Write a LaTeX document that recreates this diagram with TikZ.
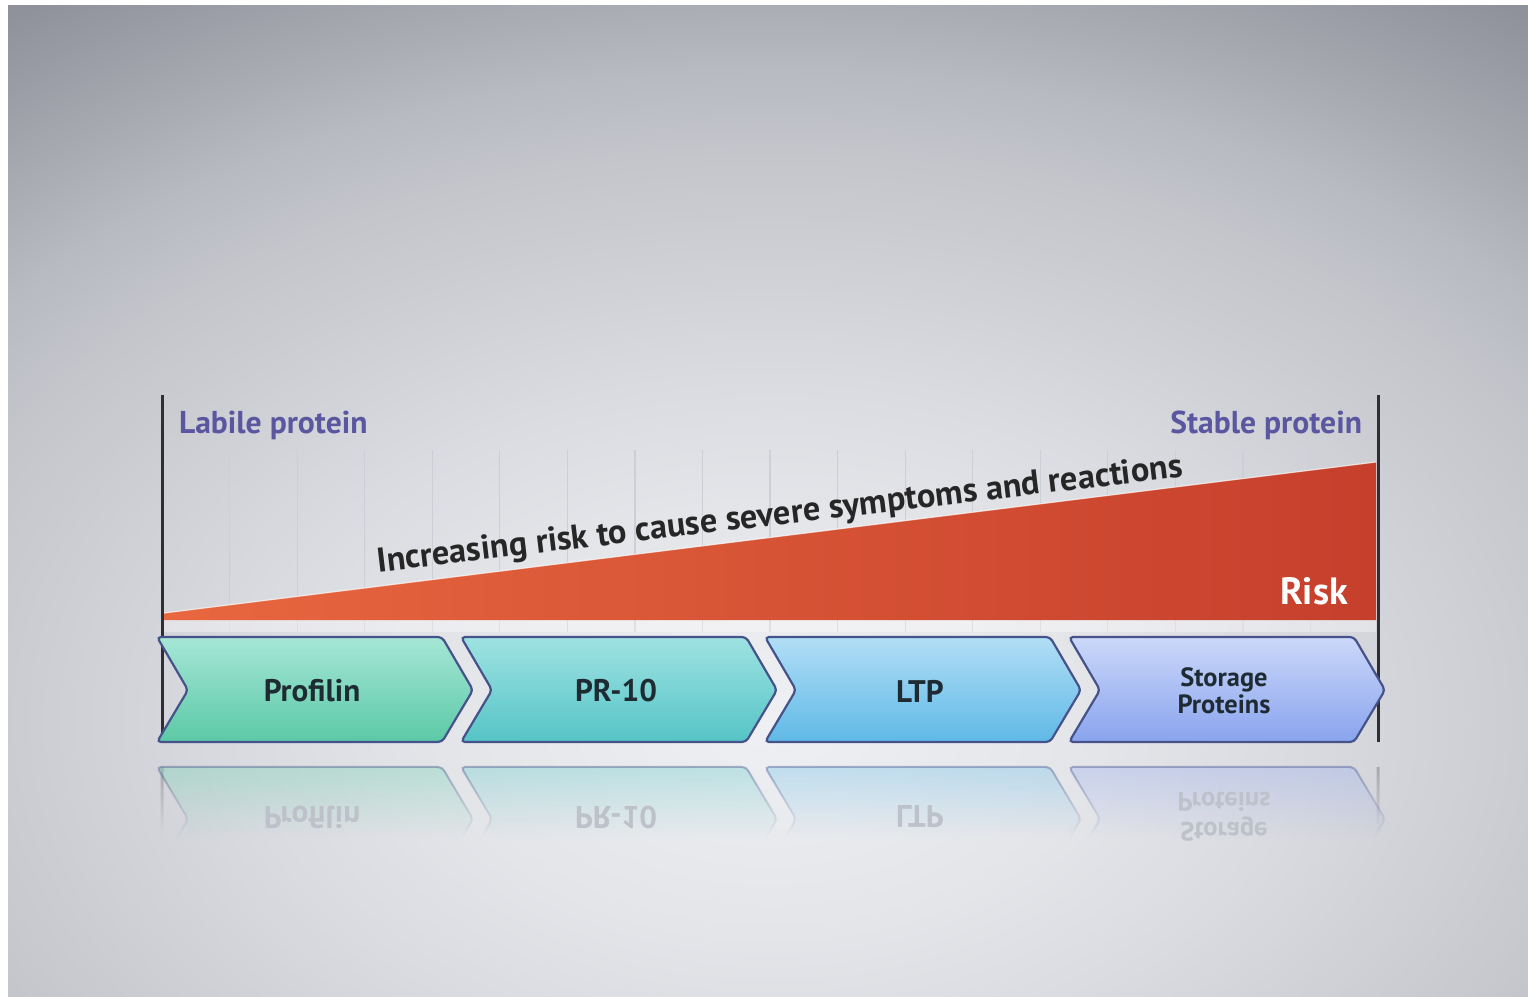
\documentclass[tikz,border=0pt]{standalone}
\usepackage{fontspec}
\setmainfont{PT Sans}
\usetikzlibrary{fadings}
\definecolor{gridcol}{HTML}{CDCFD6}
\definecolor{wedgeL}{HTML}{E8673F}
\definecolor{wedgeR}{HTML}{C63F2C}
\definecolor{axiscol}{HTML}{2E2E33}
\definecolor{labcol}{HTML}{5A56A0}
\definecolor{chevline}{HTML}{46528A}
\definecolor{textcol}{HTML}{1F2B33}
\definecolor{refltxt}{HTML}{BDC1C9}
\definecolor{cAt}{HTML}{A6E6D6}\definecolor{cAb}{HTML}{5BC9A6}
\definecolor{cBt}{HTML}{9FE2E2}\definecolor{cBb}{HTML}{55C4C6}
\definecolor{cCt}{HTML}{B2DEF6}\definecolor{cCb}{HTML}{5FB9E6}
\definecolor{cDt}{HTML}{CCD8FA}\definecolor{cDb}{HTML}{89A4EE}
\definecolor{r0}{HTML}{EFF0F3}\definecolor{r1}{HTML}{E4E5E9}\definecolor{r2}{HTML}{DADBE0}
\definecolor{r3}{HTML}{C9CBD0}\definecolor{r4}{HTML}{C3C5CB}\definecolor{r5}{HTML}{B8BAC1}
\definecolor{r6}{HTML}{ABADB5}\definecolor{r7}{HTML}{8F929B}
\pgfdeclareradialshading{bgrad}{\pgfpoint{0bp}{0bp}}{color(0bp)=(r0); color(7.5bp)=(r1); color(12bp)=(r2); color(17.75bp)=(r3); color(20bp)=(r4); color(22.75bp)=(r5); color(25bp)=(r6); color(30bp)=(r7); color(50bp)=(r7)}
\begin{tikzfadingfrompicture}[name=reflfade]
  \path (0,0) rectangle (2,2);
  \shade[top color=transparent!55, bottom color=transparent!100] (0,0.7) rectangle (2,2);
\end{tikzfadingfrompicture}
\begin{tikzfadingfrompicture}[name=axisfade]
  \path (0,0) rectangle (2,2);
  \shade[top color=transparent!70, bottom color=transparent!100] (0,0.8) rectangle (2,2);
\end{tikzfadingfrompicture}
\tikzset{
  chevtext/.style={text=textcol, font=\fontsize{15.6}{16}\selectfont\bfseries, align=center},
  chevsmall/.style={text=textcol, font=\fontsize{13.2}{13.5}\selectfont\bfseries, align=center},
  reflchevtext/.style={text=refltxt, font=\fontsize{15.6}{16}\selectfont\bfseries, align=center},
  reflchevsmall/.style={text=refltxt, font=\fontsize{13.2}{13.5}\selectfont\bfseries, align=center},
  sidelabel/.style={text=labcol, font=\fontsize{15.8}{17}\selectfont\bfseries},
  axisline/.style={draw=axiscol, line width=1.5pt},
  gridline/.style={draw=gridcol, line width=0.6pt},
  chevbox/.style={draw=chevline, line width=1.1pt, rounded corners=2pt},
}
\newcommand\mychev[7]{% x0, name, top, bottom, text, textstyle, reflected text
  \shade[chevbox, top color=#3, bottom color=#4]
    (#1,637) -- ({#1+285},637) -- ({#1+316},690) -- ({#1+285},742) -- (#1,742) -- ({#1+31},690) -- cycle;
  \node[#6] (#2) at ({#1+155},691) {#5};
  \fill[#4!80!white, draw=chevline, line width=1pt, rounded corners=2pt, path fading=reflfade, fit fading=true]
    (#1,767) -- ({#1+285},767) -- ({#1+316},819) -- ({#1+285},872) -- (#1,872) -- ({#1+31},819) -- cycle;
  \node[refl#6] (#2r) at ({#1+155},817) {\scalebox{1}[-1]{#7}};
}
\newcommand\myreflaxis[1]{%
  \begin{scope}
    \clip ({#1-1.5},767) rectangle ({#1+1.5},872);
    \fill[axiscol, path fading=axisfade, fit fading=true] ({#1-5},767) rectangle ({#1+5},872);
  \end{scope}
}
\begin{document}
\begin{tikzpicture}[x=0.5pt,y=-0.5pt]
\useasboundingbox (0,0) rectangle (1528,997);
\fill[white] (0,0) rectangle (1528,997);
\begin{scope}
  \clip (8,5) rectangle (1528,997);
  \shade[shading=bgrad] (-330,5) rectangle (1870,1435);
\end{scope}
% grid
\foreach \i in {1,...,17}{
  \coordinate (g\i t) at ({162+67.56*\i},450);
  \coordinate (g\i b) at ({162+67.56*\i},632);
  \draw[gridline] (g\i t) -- (g\i b);
}
\fill[white, opacity=0.35] (164,620) rectangle (1376,632);
% wedge
\shade[left color=wedgeL, right color=wedgeR] (164,613) -- (1376,462) -- (1376,620) -- (164,620) -- cycle;
\coordinate (w1) at (164,613);
\coordinate (w2) at (1376,462);
\draw[white, opacity=0.7, line width=0.6pt] (w1) -- (w2);
% axis lines
\coordinate (Lt) at (162,395); \coordinate (Lb) at (162,742);
\coordinate (Rt) at (1378,395); \coordinate (Rb) at (1378,742);
\draw[axisline] (Lt) -- (Lb);
\draw[axisline] (Rt) -- (Rb);
\myreflaxis{162}
\myreflaxis{1378}
% labels
\node[sidelabel, anchor=west] (labile) at (172,425) {Labile protein};
\node[sidelabel, anchor=east] (stable) at (1369,425) {Stable protein};
\node[text=black!85, font=\fontsize{17.2}{18}\selectfont\bfseries, rotate=6.75] (incr) at (780,516) {Increasing risk to cause severe symptoms and reactions};
\node[text=white, font=\fontsize{19}{20}\selectfont\bfseries] (risk) at (1314,591) {Risk};
% chevrons
\mychev{157}{profilin}{cAt}{cAb}{Profilin}{chevtext}{Profilin}
\mychev{461}{pr10}{cBt}{cBb}{PR-10}{chevtext}{PR-10}
\mychev{765}{ltp}{cCt}{cCb}{LTP}{chevtext}{LTP}
\mychev{1069}{storage}{cDt}{cDb}{Storage\\Proteins}{chevsmall}{\shortstack{Storage\\Proteins}}
\end{tikzpicture}
\end{document}
